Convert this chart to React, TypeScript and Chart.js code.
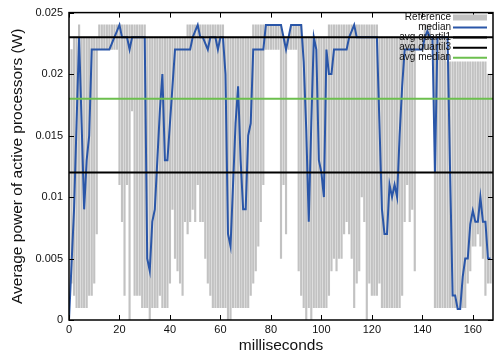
import React, { useEffect, useRef } from "react";
import { Chart, registerables } from "chart.js";

Chart.register(...registerables);

// Reference range (high / low) per millisecond, index = ms
const refHigh: (number | null)[] = [
  null, 0.022, 0.023, 0.023, 0.024, 0.023, 0.023, 0.023, 0.023, 0.023,
  0.023, 0.023, 0.024, 0.024, 0.024, 0.024, 0.024, 0.024, 0.024, 0.024,
  0.024, 0.024, 0.024, 0.024, 0.024, 0.024, 0.024, 0.024, 0.024, 0.024,
  0.024, 0.023, 0.023, 0.023, 0.023, 0.023, 0.023, 0.023, 0.023, 0.023,
  0.023, 0.023, 0.023, 0.023, 0.023, 0.023, 0.023, 0.024, 0.024, 0.024,
  0.024, 0.024, 0.024, 0.024, 0.024, 0.024, 0.024, 0.024, 0.024, 0.024,
  0.024, 0.024, 0.023, 0.023, 0.023, 0.023, 0.023, 0.023, 0.023, 0.023,
  0.023, 0.023, 0.023, 0.024, 0.024, 0.024, 0.024, 0.024, 0.024, 0.024,
  0.024, 0.024, 0.024, 0.024, 0.024, 0.023, 0.023, 0.023, 0.024, 0.024,
  0.024, 0.024, 0.024, 0.023, 0.023, 0.023, 0.023, 0.023, 0.023, 0.023,
  0.023, 0.023, 0.023, 0.024, 0.024, 0.024, 0.024, 0.024, 0.024, 0.024,
  0.024, 0.024, 0.024, 0.024, 0.024, 0.024, 0.024, 0.024, 0.024, 0.024,
  0.024, 0.024, 0.024, 0.023, 0.023, 0.023, 0.023, 0.023, 0.023, 0.023,
  0.023, 0.023, 0.023, 0.023, 0.023, 0.023, 0.023, 0.023, 0.023, 0.023,
  0.023, 0.024, 0.024, 0.024, 0.023, 0.023, 0.023, 0.023, 0.023, 0.023,
  0.021, 0.021, 0.021, 0.021, 0.021, 0.021, 0.021, 0.021, 0.021, 0.021,
  0.021, 0.021, 0.021, 0.021, 0.021, 0.021, 0.020, 0.020,
];

const refLow: (number | null)[] = [
  null, 0.003, 0.002, 0.001, 0.001, 0.001, 0.001, 0.001, 0.002, 0.002,
  0.003, 0.007, 0.022, 0.022, 0.022, 0.022, 0.022, 0.022, 0.022, 0.022,
  0.011, 0.008, 0.002, 0.011, 0.0, 0.017, 0.002, 0.002, 0.002, 0.001,
  0.001, 0.001, 0.0, 0.001, 0.001, 0.001, 0.002, 0.001, 0.001, 0.001,
  0.003, 0.009, 0.005, 0.004, 0.003, 0.002, 0.008, 0.007, 0.008, 0.009,
  0.008, 0.011, 0.008, 0.008, 0.005, 0.003, 0.002, 0.001, 0.001, 0.001,
  0.001, 0.001, 0.001, 0.0, 0.0, 0.001, 0.001, 0.001, 0.001, 0.001,
  0.001, 0.001, 0.002, 0.003, 0.004, 0.006, 0.008, 0.011, 0.022, 0.022,
  0.022, 0.022, 0.022, 0.022, 0.005, 0.011, 0.007, 0.022, 0.022, 0.022,
  0.022, 0.004, 0.002, 0.001, 0.0, 0.001, 0.0, 0.001, 0.001, 0.001,
  0.001, 0.001, 0.001, 0.002, 0.004, 0.005, 0.004, 0.005, 0.005, 0.007,
  0.008, 0.007, 0.005, 0.001, 0.003, 0.004, 0.010, 0.008, 0.0, 0.003,
  0.002, 0.002, 0.002, 0.003, 0.001, 0.001, 0.001, 0.001, 0.001, 0.001,
  0.001, 0.001, 0.002, 0.008, 0.011, 0.008, 0.009, 0.004, 0.022, 0.022,
  0.022, 0.022, 0.022, 0.022, 0.022, 0.001, 0.001, 0.001, 0.001, 0.001,
  0.001, 0.001, 0.001, 0.001, 0.001, 0.001, 0.001, 0.001, 0.003, 0.004,
  0.006, 0.006, 0.007, 0.006, 0.005, 0.002, 0.003, 0.003,
];

const median: number[] = [
  0, 0.0045, 0.009, 0.016, 0.023, 0.016, 0.009, 0.013, 0.015, 0.022,
  0.022, 0.022, 0.022, 0.022, 0.022, 0.022, 0.022, 0.0225, 0.023, 0.0235,
  0.024, 0.023, 0.023, 0.023, 0.022, 0.023, 0.023, 0.023, 0.023, 0.023,
  0.023, 0.005, 0.004, 0.008, 0.009, 0.013, 0.017, 0.020, 0.013, 0.013,
  0.016, 0.019, 0.022, 0.022, 0.022, 0.022, 0.022, 0.022, 0.022, 0.023,
  0.0235, 0.024, 0.023, 0.023, 0.0225, 0.022, 0.023, 0.023, 0.023, 0.022,
  0.023, 0.023, 0.020, 0.007, 0.006, 0.011, 0.016, 0.019, 0.013, 0.009,
  0.009, 0.015, 0.016, 0.022, 0.022, 0.022, 0.022, 0.022, 0.024, 0.024,
  0.024, 0.024, 0.024, 0.024, 0.024, 0.023, 0.022, 0.023, 0.024, 0.024,
  0.024, 0.024, 0.024, 0.021, 0.0155, 0.008, 0.016, 0.023, 0.022, 0.013,
  0.012, 0.010, 0.022, 0.020, 0.020, 0.022, 0.022, 0.022, 0.022, 0.022,
  0.022, 0.023, 0.0235, 0.024, 0.023, 0.023, 0.023, 0.023, 0.023, 0.023,
  0.023, 0.023, 0.023, 0.016, 0.009, 0.007, 0.007, 0.011, 0.010, 0.011,
  0.010, 0.015, 0.019, 0.022, 0.022, 0.022, 0.022, 0.022, 0.022, 0.022,
  0.022, 0.023, 0.0235, 0.023, 0.023, 0.012, 0.023, 0.023, 0.023, 0.023,
  0.023, 0.012, 0.002, 0.002, 0.0009, 0.0009, 0.0035, 0.005, 0.005, 0.0078,
  0.0089, 0.008, 0.008, 0.010, 0.008, 0.008, 0.005, 0.005,
];

const avgQuartile1 = 0.012;
const avgQuartile3 = 0.023;
const avgMedian = 0.018;

const xTicks = [0, 20, 40, 60, 80, 100, 120, 140, 160];
const yTicks = [0, 0.005, 0.01, 0.015, 0.02, 0.025];
const xMin = 0;
const xMax = 168;
const yMin = 0;
const yMax = 0.025;

const legendLabels = ["Reference", "median", "avg quartil1", "avg quartil3", "avg median"];

const GRAY = "#c2c2c2";
const BLUE = "#2a56a8";
const BLACK = "#000000";
const GREEN = "#6cbf4e";
const FONT = "'Liberation Sans', Arial, Helvetica, sans-serif";

const framePlugin = {
  id: "frame",
  afterDatasetsDraw(chart: any) {
    const { ctx, chartArea } = chart;
    const { left, right, top, bottom } = chartArea;
    const xs = chart.scales.x;
    const ys = chart.scales.y;
    ctx.save();
    ctx.strokeStyle = BLACK;
    ctx.lineWidth = 1.5;
    ctx.strokeRect(left, top, right - left, bottom - top);
    ctx.lineWidth = 1;
    const tl = 5;
    ctx.beginPath();
    xTicks.forEach((v) => {
      const px = Math.round(xs.getPixelForValue(v)) + 0.5;
      ctx.moveTo(px, bottom);
      ctx.lineTo(px, bottom - tl);
      ctx.moveTo(px, top);
      ctx.lineTo(px, top + tl);
    });
    yTicks.forEach((v) => {
      const py = Math.round(ys.getPixelForValue(v)) + 0.5;
      ctx.moveTo(left, py);
      ctx.lineTo(left + tl, py);
      ctx.moveTo(right, py);
      ctx.lineTo(right - tl, py);
    });
    ctx.stroke();
    ctx.restore();
  },
  afterDraw(chart: any) {
    const { ctx } = chart;
    const colors = [GRAY, BLUE, BLACK, BLACK, GREEN];
    const textRight = 451;
    const x0 = 453;
    const x1 = 487;
    const y0 = 17.5;
    const step = 10.05;
    ctx.save();
    ctx.font = `10px ${FONT}`;
    ctx.textAlign = "right";
    ctx.textBaseline = "middle";
    legendLabels.forEach((label, i) => {
      const y = y0 + i * step;
      ctx.fillStyle = "#111";
      ctx.fillText(label, textRight, y);
      if (i === 0) {
        ctx.fillStyle = colors[i];
        ctx.fillRect(x0, y - 3, x1 - x0, 6);
      } else {
        ctx.strokeStyle = colors[i];
        ctx.lineWidth = 2;
        ctx.beginPath();
        ctx.moveTo(x0, y);
        ctx.lineTo(x1, y);
        ctx.stroke();
      }
    });
    ctx.restore();
  },
};

export default function App() {
  const canvasRef = useRef<HTMLCanvasElement>(null);

  useEffect(() => {
    const canvas = canvasRef.current;
    if (!canvas) return;

    const refData = refHigh
      .map((h, i) => ({ x: i, h, l: refLow[i] }))
      .filter((d) => d.h != null && d.l != null)
      .map((d) => ({ x: d.x, y: [d.l as number, d.h as number] }));
    const medianData = median.map((v, i) => ({ x: i, y: v }));
    const hLine = (v: number) => [
      { x: xMin, y: v },
      { x: xMax, y: v },
    ];

    const chart = new Chart(canvas, {
      type: "bar",
      data: {
        datasets: [
          {
            type: "bar",
            label: legendLabels[0],
            data: refData as any,
            backgroundColor: GRAY,
            borderWidth: 0,
            barThickness: 1.5,
            order: 10,
          },
          {
            type: "line",
            label: legendLabels[1],
            data: medianData as any,
            borderColor: BLUE,
            borderWidth: 2,
            pointRadius: 0,
            tension: 0,
            order: 9,
          },
          {
            type: "line",
            label: legendLabels[2],
            data: hLine(avgQuartile1) as any,
            borderColor: BLACK,
            borderWidth: 2,
            pointRadius: 0,
            order: 3,
          },
          {
            type: "line",
            label: legendLabels[3],
            data: hLine(avgQuartile3) as any,
            borderColor: BLACK,
            borderWidth: 2,
            pointRadius: 0,
            order: 2,
          },
          {
            type: "line",
            label: legendLabels[4],
            data: hLine(avgMedian) as any,
            borderColor: GREEN,
            borderWidth: 2,
            pointRadius: 0,
            order: 1,
          },
        ],
      },
      options: {
        animation: false,
        responsive: false,
        events: [],
        layout: { padding: { left: 0, right: 2, top: 9, bottom: 0 } },
        plugins: { legend: { display: false }, tooltip: { enabled: false } },
        scales: {
          x: {
            type: "linear",
            min: xMin,
            max: xMax,
            offset: false,
            grid: { display: false, drawTicks: false, offset: false },
            border: { display: false },
            afterBuildTicks: (s: any) => {
              s.ticks = xTicks.map((v) => ({ value: v }));
            },
            afterFit: (s: any) => {
              s.height = 33;
            },
            ticks: {
              padding: 3,
              color: "#111",
              maxRotation: 0,
              autoSkip: false,
              font: { family: FONT, size: 11 },
              callback: (v: any) => String(v),
            },
            title: {
              display: true,
              text: "milliseconds",
              color: "#111",
              font: { family: FONT, size: 15.5, lineHeight: 1 },
              padding: { top: 0, bottom: 0 },
            },
          },
          y: {
            type: "linear",
            min: yMin,
            max: yMax,
            grid: { display: false, drawTicks: false },
            border: { display: false },
            afterBuildTicks: (s: any) => {
              s.ticks = yTicks.map((v) => ({ value: v }));
            },
            afterFit: (s: any) => {
              s.width = 69;
            },
            ticks: {
              padding: 6,
              color: "#111",
              autoSkip: false,
              font: { family: FONT, size: 11 },
              callback: (v: any) => String(Number(Number(v).toFixed(3))),
            },
            title: {
              display: true,
              text: "Average power of active processors (W)",
              color: "#111",
              font: { family: FONT, size: 15.5, lineHeight: 1.2 },
              padding: { top: 8, bottom: 0 },
            },
          },
        },
      },
      plugins: [framePlugin],
    } as any);

    return () => chart.destroy();
  }, []);

  return (
    <div style={{ position: "absolute", left: 0, top: 0, width: 495, height: 353, background: "#fff" }}>
      <canvas ref={canvasRef} width={495} height={353} style={{ display: "block", width: 495, height: 353 }} />
    </div>
  );
}
